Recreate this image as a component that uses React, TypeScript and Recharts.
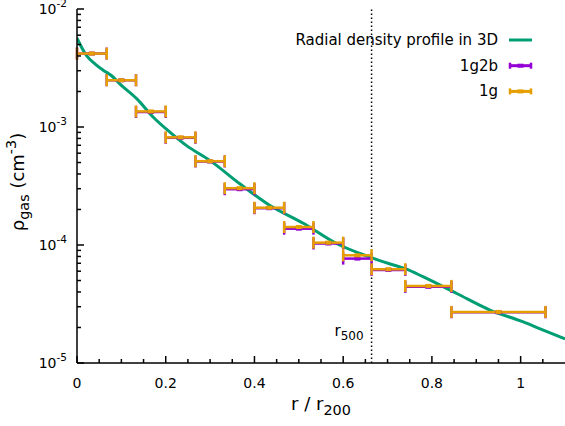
import React from 'react';
import { ComposedChart, XAxis, YAxis, Line, Scatter, ErrorBar, ReferenceLine, Legend } from 'recharts';

// radial density profile in 3D (r / r200, cm^-3)
const profileR = [0, 0.022, 0.041, 0.059, 0.078, 0.097, 0.135, 0.172, 0.21, 0.247, 0.3, 0.367, 0.435, 0.51, 0.585, 0.66, 0.706, 0.74, 0.781, 0.856, 0.931, 1.006, 1.051, 1.1];
const profileRho = [5.65e-3, 4.0e-3, 3.41e-3, 3.03e-3, 2.72e-3, 2.31e-3, 1.73e-3, 1.21e-3, 9.0e-4, 6.95e-4, 5.19e-4, 3.3e-4, 2.16e-4, 1.53e-4, 1.03e-4, 7.9e-5, 6.9e-5, 6.3e-5, 5.36e-5, 3.88e-5, 2.81e-5, 2.23e-5, 1.9e-5, 1.6e-5];

// projected bins
const binLo = [0, 0.067, 0.133, 0.2, 0.267, 0.333, 0.4, 0.467, 0.533, 0.6, 0.664, 0.74, 0.844];
const binHi = [0.067, 0.133, 0.2, 0.267, 0.333, 0.4, 0.467, 0.533, 0.6, 0.664, 0.74, 0.844, 1.056];
const rho1g2b = [4.19e-3, 2.49e-3, 1.34e-3, 8.1e-4, 5.1e-4, 2.97e-4, 2.05e-4, 1.375e-4, 1.03e-4, 7.67e-5, 6.15e-5, 4.42e-5, 2.69e-5];
const rho1g = [4.19e-3, 2.49e-3, 1.355e-3, 8.17e-4, 5.13e-4, 3.03e-4, 2.07e-4, 1.42e-4, 1.047e-4, 8.18e-5, 6.23e-5, 4.5e-5, 2.71e-5];

const r500 = 0.664;

const legendLabels = ['Radial density profile in 3D', '1g2b', '1g'];
const colors = ['#009e73', '#9400d3', '#e69f00'];

const xMajorTicks = [0, 0.2, 0.4, 0.6, 0.8, 1];
const xTickLabels = ['0', '0.2', '0.4', '0.6', '0.8', '1'];
const xMinorTicks = [0.05, 0.1, 0.15, 0.25, 0.3, 0.35, 0.45, 0.5, 0.55, 0.65, 0.7, 0.75, 0.85, 0.9, 0.95, 1.05];
const yMajorTicks = [1e-5, 1e-4, 1e-3, 1e-2];
const yTickExponents = ['-5', '-4', '-3', '-2'];
const yMinorFactors = [2, 3, 4, 5, 6, 7, 8, 9];

const FONT = 'DejaVu Sans';

const profile = profileR.map((r, i) => ({ r, rho: profileRho[i] }));
const makeBins = (vals: number[]) =>
  binLo.map((lo, i) => ({ r: (lo + binHi[i]) / 2, rho: vals[i], err: (binHi[i] - lo) / 2 }));
const bins1g2b = makeBins(rho1g2b);
const bins1g = makeBins(rho1g);

const xTicks = [...xMajorTicks, ...xMinorTicks].sort((a, b) => a - b);
const yTicks = [
  ...yMajorTicks,
  ...yMajorTicks.slice(0, 3).flatMap((d) => yMinorFactors.map((f) => f * d)),
].sort((a, b) => a - b);

const XTick = ({ x, y, payload, top }: any) => {
  const idx = xMajorTicks.indexOf(payload.value);
  const len = idx >= 0 ? 7 : 4;
  const dir = top ? 1 : -1;
  return (
    <g>
      <line x1={x} x2={x} y1={y} y2={y + dir * len} stroke="#000" strokeWidth={1.5} />
      {!top && idx >= 0 && (
        <text x={x} y={y + 25} textAnchor="middle" fontFamily={FONT} fontSize={14} fill="#000">
          {xTickLabels[idx]}
        </text>
      )}
    </g>
  );
};

const YTick = ({ x, y, payload, right }: any) => {
  const idx = yMajorTicks.indexOf(payload.value);
  const len = idx >= 0 ? 7 : 4;
  const dir = right ? -1 : 1;
  return (
    <g>
      <line x1={x} x2={x + dir * len} y1={y} y2={y} stroke="#000" strokeWidth={1.5} />
      {!right && idx >= 0 && (
        <text x={x - 10} y={y + 5} textAnchor="end" fontFamily={FONT} fontSize={14} fill="#000">
          10
          <tspan dy={-7} fontSize={10.5}>{yTickExponents[idx]}</tspan>
        </text>
      )}
    </g>
  );
};

const Marker = ({ cx, cy, fill }: any) => (
  <rect x={cx - 3} y={cy - 2} width={6} height={4} fill={fill} />
);

const R500Label = ({ viewBox }: any) => {
  const { x, y, height } = viewBox;
  return (
    <text x={x - 8} y={y + height - 27} textAnchor="end" fontFamily={FONT} fontSize={15} fill="#000">
      r<tspan dy={4} fontSize={12}>500</tspan>
    </text>
  );
};

const LegendContent = () => (
  <svg width={565} height={110} style={{ display: 'block' }}>
    {legendLabels.map((label, i) => {
      const cy = 40 + i * 25.7;
      return (
        <g key={label}>
          <text x={498} y={cy + 5} textAnchor="end" fontFamily={FONT} fontSize={15} fill="#000">
            {label}
          </text>
          <line x1={509} x2={532} y1={cy} y2={cy} stroke={colors[i]} strokeWidth={3} />
          {i > 0 && (
            <g>
              <line x1={510} x2={510} y1={cy - 3} y2={cy + 3} stroke={colors[i]} strokeWidth={2.5} />
              <line x1={531} x2={531} y1={cy - 3} y2={cy + 3} stroke={colors[i]} strokeWidth={2.5} />
              <rect x={517.5} y={cy - 2} width={6} height={4} fill={colors[i]} />
            </g>
          )}
        </g>
      );
    })}
  </svg>
);

export default function App() {
  return (
    <div style={{ position: 'absolute', left: 0, top: 0, width: 565, height: 426, background: '#fff', fontFamily: FONT }}>
      <ComposedChart width={565} height={426} margin={{ top: 9, right: 0, bottom: 0, left: 0 }}>
        <XAxis
          dataKey="r"
          type="number"
          domain={[0, 1.1]}
          ticks={xTicks}
          interval={0}
          tickSize={0}
          tickMargin={0}
          height={63}
          axisLine={{ stroke: '#000', strokeWidth: 1.5 }}
          tickLine={false}
          tick={<XTick />}
          allowDataOverflow
        />
        <XAxis
          xAxisId="top"
          orientation="top"
          type="number"
          domain={[0, 1.1]}
          ticks={xTicks}
          interval={0}
          tickSize={0}
          tickMargin={0}
          height={0}
          axisLine={{ stroke: '#000', strokeWidth: 1.5 }}
          tickLine={false}
          tick={<XTick top />}
          allowDataOverflow
        />
        <YAxis
          dataKey="rho"
          scale="log"
          type="number"
          domain={[1e-5, 1e-2]}
          ticks={yTicks}
          interval={0}
          tickSize={0}
          tickMargin={0}
          width={77}
          axisLine={{ stroke: '#000', strokeWidth: 1.5 }}
          tickLine={false}
          tick={<YTick />}
          allowDataOverflow
          label={{
            content: () => (
              <text
                x={24}
                y={182}
                transform="rotate(-90 24 182)"
                textAnchor="middle"
                fontFamily={FONT}
                fontSize={18}
                fill="#000"
              >
                ρ<tspan dy={5} fontSize={14.4}>gas</tspan>
                <tspan dy={-5}> (cm</tspan>
                <tspan dy={-8} fontSize={14.4}>-3</tspan>
                <tspan dy={8}>)</tspan>
              </text>
            ),
          }}
        />
        <YAxis
          yAxisId="right"
          orientation="right"
          scale="log"
          type="number"
          domain={[1e-5, 1e-2]}
          ticks={yTicks}
          interval={0}
          tickSize={0}
          tickMargin={0}
          width={0}
          axisLine={{ stroke: '#000', strokeWidth: 1.5 }}
          tickLine={false}
          tick={<YTick right />}
          allowDataOverflow
        />
        <ReferenceLine
          x={r500}
          stroke="#000"
          strokeWidth={1.5}
          strokeDasharray="1.5 2.5"
          label={<R500Label />}
        />
        <Line
          data={profile}
          dataKey="rho"
          type="monotone"
          stroke={colors[0]}
          strokeWidth={3}
          dot={false}
          isAnimationActive={false}
        />
        <Scatter data={bins1g2b} dataKey="rho" fill={colors[1]} shape={<Marker />} isAnimationActive={false}>
          <ErrorBar dataKey="err" direction="x" width={6} stroke={colors[1]} strokeWidth={2.5} isAnimationActive={false} />
        </Scatter>
        <Scatter data={bins1g} dataKey="rho" fill={colors[2]} shape={<Marker />} isAnimationActive={false}>
          <ErrorBar dataKey="err" direction="x" width={6} stroke={colors[2]} strokeWidth={2.5} isAnimationActive={false} />
        </Scatter>
        <Legend
          layout="horizontal"
          verticalAlign="middle"
          align="center"
          content={<LegendContent />}
          wrapperStyle={{ position: 'absolute', left: 0, top: 0, width: 565, height: 110, pointerEvents: 'none' }}
        />
        <text x={321} y={410} textAnchor="middle" fontFamily={FONT} fontSize={18} fill="#000">
          r / r<tspan dy={5} fontSize={14.4}>200</tspan>
        </text>
      </ComposedChart>
    </div>
  );
}
